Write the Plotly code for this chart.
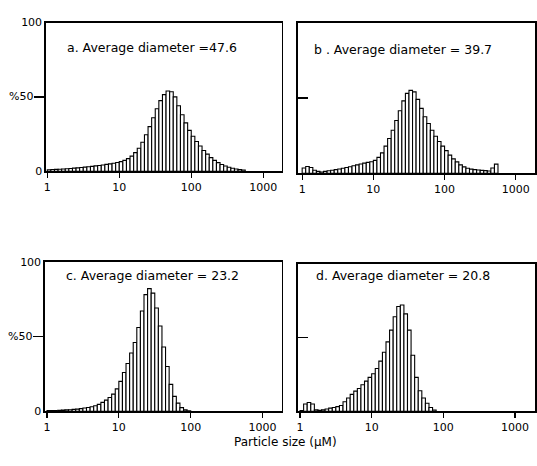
import plotly.graph_objects as go

# ---- data -------------------------------------------------------------
# size channels: equal log10 width, first channel starts at 1 µm
BIN_LOG_WIDTH = 0.05
FIRST_EDGE = 1.0

pct_a = [1.0, 1.2, 1.3, 1.4, 1.5, 1.7, 1.9, 2.1, 2.3, 2.5,
         2.8, 3.0, 3.3, 3.6, 3.9, 4.2, 4.6, 5.0, 5.4, 5.9,
         6.5, 7.3, 8.5, 10.2, 12.5, 15.5, 19.5, 24.5, 30, 36,
         42, 47.5, 51.5, 54, 53.5, 50, 44, 38, 32.5, 27.5,
         23.5, 20, 17, 14, 11.5, 9.2, 7.3, 5.8, 4.5, 3.5,
         2.7, 2.0, 1.5, 1.1, 0.8]

pct_b = [3.5, 4.5, 3.8, 2.0, 1.2, 0.8, 1.2, 1.6, 2.0, 2.4,
         2.8, 3.3, 3.8, 4.3, 4.9, 5.5, 6.1, 6.7, 7.2, 7.6,
         8.5, 10.5, 13.5, 18, 23, 28.5, 35, 41.5, 48, 53,
         55, 54, 49, 43, 37.5, 33, 28.5, 24.5, 21, 18,
         15, 12, 9.5, 7.5, 5.5, 4.2, 3.3, 2.7, 2.4, 2.1,
         1.9, 1.7, 1.5, 3.5, 6.0]

pct_c = [0.5, 0.5, 0.6, 0.7, 0.8, 1.0, 1.1, 1.3, 1.5, 1.8,
         2.2, 2.6, 3.1, 3.8, 4.7, 6.0, 7.5, 9.3, 11.5, 15,
         20, 26, 32, 39, 46, 56, 67, 78, 82, 79,
         69, 57, 43, 30, 18, 10, 5.5, 2.5, 1.0, 0.4]

pct_d = [0.5, 5, 6, 5, 1, 0.7, 1.0, 1.6, 2.2, 2.6,
         3.2, 4.0, 6.5, 9, 11.5, 13.7, 15.5, 18, 20.5, 23,
         25.5, 29, 34, 40, 47, 55, 64, 71, 72, 66,
         55, 38, 23, 14, 9, 5.5, 2.6, 0.9]

panel_labels = ["a. Average diameter =47.6",
                "b . Average diameter = 39.7",
                "c. Average diameter = 23.2",
                "d. Average diameter = 20.8"]

x_tick_vals = [1, 10, 100, 1000]
x_tick_text = ["1", "10", "100", "1000"]
y_tick_vals = [0, 100]
y_tick_text = ["0", "100"]
y_mid_val = 50
y_mid_text = "%50"
x_title = "Particle size (\u03bcM)"

# ---- layout geometry --------------------------------------------------
W, H = 537, 466
panels = [
    # (values, x px range, y px range (top,bottom), log x range, label pos, left?)
    (pct_a, (44, 281), (17, 170), (-0.02, 3.26), (0.08, 0.83), True),
    (pct_b, (297, 535), (17, 172), (-0.06, 3.27), (0.059, 0.82), False),
    (pct_c, (43, 281), (263, 417), (-0.03, 3.27), (0.08, 0.91), True),
    (pct_d, (297, 535), (265, 417), (-0.03, 3.28), (0.067, 0.92), False),
]

FONT = "DejaVu Sans"
fig = go.Figure()
layout = dict(
    width=W, height=H, margin=dict(l=0, r=0, t=0, b=0),
    paper_bgcolor="white", plot_bgcolor="white", showlegend=False,
    font=dict(family=FONT, color="black", size=11),
    annotations=[],
)


def channels(n):
    lo = [FIRST_EDGE * 10 ** (BIN_LOG_WIDTH * k) for k in range(n)]
    hi = [FIRST_EDGE * 10 ** (BIN_LOG_WIDTH * (k + 1)) for k in range(n)]
    return lo, [h - l for h, l in zip(hi, lo)]


for i, (vals, (px0, px1), (pyt, pyb), xr, (lx, ly), left) in enumerate(panels):
    n = i + 1
    xa = "x" if n == 1 else f"x{n}"
    ya = "y" if n == 1 else f"y{n}"
    lo, widths = channels(len(vals))
    fig.add_trace(go.Bar(
        x=lo, y=vals, width=widths, offset=0,
        marker=dict(color="white", line=dict(color="black", width=1.1)),
        xaxis=xa, yaxis=ya, hoverinfo="skip",
    ))
    xkey = "xaxis" if n == 1 else f"xaxis{n}"
    ykey = "yaxis" if n == 1 else f"yaxis{n}"
    layout[xkey] = dict(
        type="log", range=list(xr),
        domain=[px0 / W, px1 / W], anchor=ya,
        showline=True, mirror=True, linecolor="black", linewidth=1.5,
        tickvals=x_tick_vals, ticktext=x_tick_text,
        ticks="outside", ticklen=5, tickcolor="black", tickwidth=1.2,
        showgrid=False, zeroline=False,
        tickfont=dict(family=FONT, size=11, color="black"),
    )
    layout[ykey] = dict(
        range=[0, 100],
        domain=[(H - pyb) / H, (H - pyt) / H], anchor=xa,
        showline=True, mirror=True, linecolor="black", linewidth=1.5,
        tickvals=y_tick_vals, ticktext=y_tick_text,
        showticklabels=left,
        ticks="", showgrid=False, zeroline=False,
        tickfont=dict(family=FONT, size=11, color="black"),
        minor=dict(tickmode="array", tickvals=[y_mid_val],
                   ticks="outside" if left else "inside",
                   ticklen=10, tickcolor="black", tickwidth=1.3,
                   showgrid=False),
    )
    if left:
        layout["annotations"].append(dict(
            text=y_mid_text, xref=f"{xa} domain", yref=ya,
            x=0, y=y_mid_val, xanchor="right", yanchor="middle",
            xshift=-11, showarrow=False,
            font=dict(family=FONT, size=11, color="black"),
        ))
    layout["annotations"].append(dict(
        text=panel_labels[i], xref=f"{xa} domain", yref=f"{ya} domain",
        x=lx, y=ly, xanchor="left", yanchor="middle", showarrow=False,
        font=dict(family=FONT, size=12.5, color="black"),
    ))

layout["annotations"].append(dict(
    text=x_title, xref="paper", yref="paper", x=285 / W, y=(H - 449) / H,
    xanchor="center", yanchor="middle", showarrow=False,
    font=dict(family=FONT, size=12, color="black"),
))

fig.update_layout(**layout)
fig.write_html("out.html",
               config={"displayModeBar": False, "staticPlot": True},
               post_script="document.body.style.margin='0';"
                           "document.body.style.overflow='hidden';")
